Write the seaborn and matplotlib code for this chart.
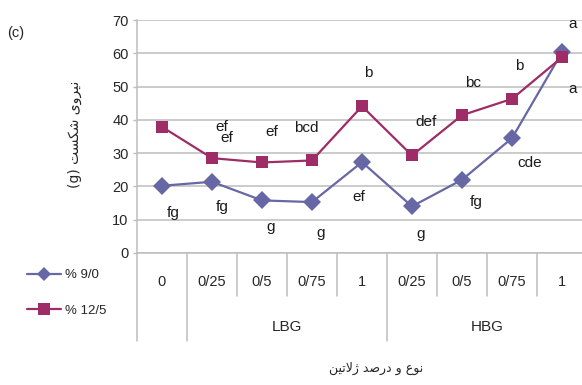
import matplotlib
matplotlib.use("Agg")
import matplotlib.pyplot as plt
from matplotlib.lines import Line2D
import seaborn as sns
import pandas as pd

# ---- data -------------------------------------------------------------
categories = ["0", "0/25", "0/5", "0/75", "1", "0/25", "0/5", "0/75", "1"]
groups = [("LBG", 1, 4), ("HBG", 5, 8)]
series_names = ["% 9/0", "% 12/5"]
values_low = [20.2, 21.4, 15.8, 15.3, 27.3, 14.0, 22.0, 34.5, 60.3]
values_high = [37.9, 28.5, 27.2, 27.8, 44.1, 29.3, 41.4, 46.3, 58.8]
letters_low = ["fg", "fg", "g", "g", "ef", "g", "fg", "cde", "a"]
letters_high = ["ef", "ef", "ef", "bcd", "b", "def", "bc", "b", "a"]
y_ticks = [0, 10, 20, 30, 40, 50, 60, 70]

# label placement (pixel offsets from each marker)
offsets_low = [(11, -27), (10, -25), (9, -27), (9, -31), (-3, -35),
               (9, -28), (14, -22), (18, -25), (11, -37)]
offsets_high = [(65, -11), (10, 31), (10, 30), (-6, 32), (6, 33),
                (14, 33), (11, 32), (7, 33), (11, 33)]

# Persian axis titles (presentation forms, visual order)
y_title = "(g) \uFE96\uFEB4\uFB91\uFEB7 \uFEEF\uFEED\uFEAE\uFEF4\uFEE7"
x_title = ("\uFEE6\uFEF4\uFE97\uFEFB\uFB8A \uFEAA\uFEBB\uFEAD\uFEA9 "
           "\uFEED \uFEC9\uFEEE\uFEE7")

# ---- style ------------------------------------------------------------
sns.set_theme(style="white")
plt.rcParams["font.family"] = ["Liberation Sans", "DejaVu Sans"]

c_low, c_high = "#6767A6", "#9E2C66"
grid_c = "#BDBDBD"
text_c = "#262626"

df = pd.DataFrame({
    "pos": list(range(len(categories))) * 2,
    "value": values_low + values_high,
    "series": [series_names[0]] * len(values_low) + [series_names[1]] * len(values_high),
})

fig = plt.figure(figsize=(5.82, 3.85), dpi=100)
ax = fig.add_axes([137 / 582, 1 - 253 / 385, 450 / 582, 233 / 385])

for yv in y_ticks:
    ax.axhline(yv, color=grid_c, lw=1.1, zorder=0)

sns.lineplot(data=df, x="pos", y="value", hue="series", style="series",
             palette={series_names[0]: c_low, series_names[1]: c_high},
             markers={series_names[0]: "D", series_names[1]: "s"},
             dashes=False, markersize=9, linewidth=1.6,
             markeredgewidth=0, legend=False, ax=ax, zorder=3)

ax.set_xlim(-0.5, len(categories) - 0.5)
ax.set_ylim(0, 70)
ax.set_yticks(y_ticks)
ax.set_yticklabels([str(v) for v in y_ticks], fontsize=10.5, color=text_c)
ax.tick_params(axis="y", length=3, width=1, color=grid_c, pad=3, left=True)
ax.set_xticks([])
ax.set_xlabel("")
ax.set_ylabel("")
for s in ["top", "right", "bottom"]:
    ax.spines[s].set_visible(False)
ax.spines["left"].set_color(grid_c)
ax.spines["left"].set_linewidth(1.1)

# significance letters
for i, (lab, (dx, dy)) in enumerate(zip(letters_low, offsets_low)):
    ax.annotate(lab, (i, values_low[i]), xytext=(dx, dy), textcoords="offset pixels",
                ha="center", va="center", fontsize=11, color="#1a1a1a")
for i, (lab, (dx, dy)) in enumerate(zip(letters_high, offsets_high)):
    ax.annotate(lab, (i, values_high[i]), xytext=(dx, dy), textcoords="offset pixels",
                ha="center", va="center", fontsize=11, color="#1a1a1a")

# multi-level category axis
tr = ax.get_xaxis_transform()
n = len(categories)
inner_y, outer_y = -43 / 233, -88 / 233
outer_bounds = {-0.5, 0.5, n - 0.5}
for g in groups:
    outer_bounds.add(g[2] + 0.5)
ax.plot([-0.5, n - 0.5], [0, 0], transform=tr, color=grid_c, lw=1.1, clip_on=False)
for b in [k - 0.5 for k in range(n + 1)]:
    bottom = outer_y if b in outer_bounds else inner_y
    ax.plot([b, b], [0, bottom], transform=tr, color=grid_c, lw=1.1, clip_on=False)
for i, lab in enumerate(categories):
    ax.text(i, -29 / 233, lab, transform=tr, ha="center", va="center",
            fontsize=10.5, color=text_c)
for name, a, b in groups:
    ax.text((a + b) / 2, -74 / 233, name, transform=tr, ha="center", va="center",
            fontsize=11, color=text_c)

# titles
fig.text(75 / 582, 1 - 134 / 385, y_title, rotation=90, ha="center", va="center",
         family=["DejaVu Sans"], fontsize=10, color=text_c)
fig.text(376 / 582, 1 - 368 / 385, x_title, ha="center", va="center",
         family=["DejaVu Sans"], fontsize=9, color=text_c)
fig.text(7 / 582, 1 - 33 / 385, "(c)", ha="left", va="center", fontsize=10.5,
         color=text_c)

# legend
handles = [
    Line2D([], [], color=c_low, marker="D", markersize=7, lw=1.6, markeredgewidth=0),
    Line2D([], [], color=c_high, marker="s", markersize=8, lw=1.6, markeredgewidth=0),
]
fig.legend(handles, series_names, loc="center left",
           bbox_to_anchor=(20 / 582, 1 - 293 / 385), frameon=False,
           borderpad=0, handlelength=2.6, handletextpad=0.3, labelspacing=1.8,
           prop={"size": 9.5}, labelcolor=text_c)

fig.savefig("out.png", dpi=100)
